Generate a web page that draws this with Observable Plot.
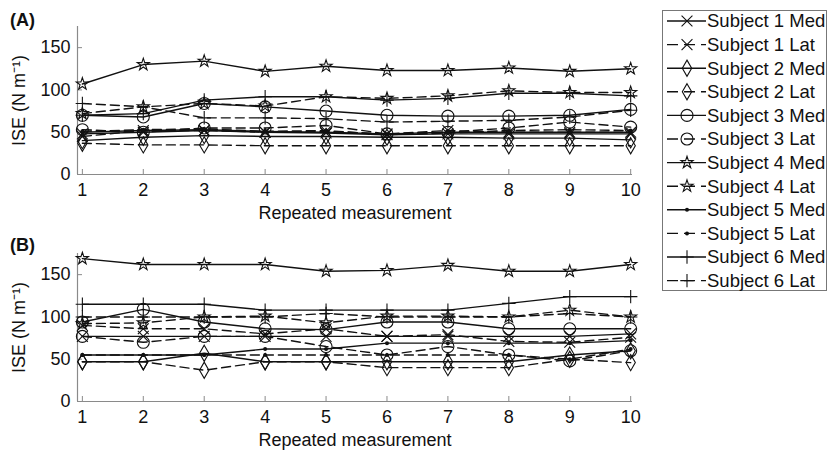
<!DOCTYPE html>
<html><head><meta charset="utf-8">
<script src="https://cdn.jsdelivr.net/npm/d3@7"></script>
<script src="https://cdn.jsdelivr.net/npm/@observablehq/plot@0.6"></script>
<style>
body{margin:0;background:#fff;font-family:"Liberation Sans",Arial,sans-serif;}
#wrap{position:relative;width:830px;height:450px;overflow:hidden;background:#fff;}
.panel{position:absolute;left:0;}
.tag{position:absolute;font-weight:bold;font-size:18px;color:#111;line-height:1;}
#legend{position:absolute;left:662px;top:10px;}
</style></head><body><div id="wrap"></div>
<script>
const measurement = [1,2,3,4,5,6,7,8,9,10];
const yTicks = [0,50,100,150];
const seriesNames = ["Subject 1 Med","Subject 1 Lat","Subject 2 Med","Subject 2 Lat","Subject 3 Med","Subject 3 Lat","Subject 4 Med","Subject 4 Lat","Subject 5 Med","Subject 5 Lat","Subject 6 Med","Subject 6 Lat"];
const panelTitles = ["(A)","(B)"];
const xLabel = "Repeated measurement";
const yLabel = "ISE (N m\u207B\u00B9)";

// Panel A
const a_s1Med = [48,50,52,50,49,47,48,48,48,48];
const a_s1Lat = [45,52,52,50,51,48,52,50,50,50];
const a_s2Med = [40,44,46,45,45,44,44,43,43,41];
const a_s2Lat = [37,35,35,34,34,34,34,34,34,34];
const a_s3Med = [70,68,84,80,75,70,69,69,70,77];
const a_s3Lat = [53,50,55,55,58,48,50,55,62,56];
const a_s4Med = [107,130,134,122,128,123,123,126,122,125];
const a_s4Lat = [72,80,84,81,92,90,93,99,97,97];
const a_s5Med = [50,52,53,51,50,48,50,50,50,50];
const a_s5Lat = [51,53,54,51,52,47,49,52,53,52];
const a_s6Med = [70,72,88,92,92,88,90,96,96,93];
const a_s6Lat = [84,80,67,67,66,62,63,64,68,76];

// Panel B
const b_s1Med = [77,77,77,77,77,77,77,77,77,80];
const b_s1Lat = [90,86,86,80,86,77,79,71,70,76];
const b_s2Med = [47,47,57,47,47,47,47,47,55,60];
const b_s2Lat = [47,47,37,47,47,40,40,40,50,46];
const b_s3Med = [94,109,94,86,85,94,94,86,86,86];
const b_s3Lat = [77,70,77,77,65,55,65,55,48,60];
const b_s4Med = [169,162,162,162,154,155,161,154,154,162];
const b_s4Lat = [92,93,100,101,93,101,101,100,108,100];
const b_s5Med = [55,55,55,62,62,69,69,69,69,72];
const b_s5Lat = [55,55,55,55,55,55,55,55,50,62];
const b_s6Med = [115,115,115,108,108,108,108,116,124,124];
const b_s6Lat = [100,100,100,100,104,100,100,100,104,100];

const panelA = [a_s1Med,a_s1Lat,a_s2Med,a_s2Lat,a_s3Med,a_s3Lat,a_s4Med,a_s4Lat,a_s5Med,a_s5Lat,a_s6Med,a_s6Lat];
const panelB = [b_s1Med,b_s1Lat,b_s2Med,b_s2Lat,b_s3Med,b_s3Lat,b_s4Med,b_s4Lat,b_s5Med,b_s5Lat,b_s6Med,b_s6Lat];

// style config
const subjectSymbol = {1:"times",2:"diamond",3:"circle",4:"star",5:"dot",6:"plus"};
const symbolR = {times:5,diamond:4.9,circle:6,star:3.8,plus:4.4};
const dash = "9,5";
const ink = "#111";
const axisGray = "#8a8a8a";
const font = "'Liberation Sans', Arial, sans-serif";

function rows(panel) {
  const out = [];
  panel.forEach((vals, i) => {
    const name = seriesNames[i];
    const subject = +name.split(" ")[1];
    const side = name.split(" ")[2];
    vals.forEach((v, j) => out.push({series: name, subject, side, symbol: subjectSymbol[subject], x: measurement[j], y: v}));
  });
  return out;
}

function makePanel(data, mTop, mBottom) {
  const xDomain = [0.92, 10.03];
  const symMarks = Object.keys(symbolR).map(s => Plot.dot(data.filter(d => d.symbol === s), {
    x: "x", y: "y", symbol: () => s, r: symbolR[s], stroke: ink, fill: "none", strokeWidth: 1.1
  }));
  return Plot.plot({
    width: 640, height: 225,
    marginLeft: 77, marginRight: 8, marginTop: mTop, marginBottom: mBottom,
    style: {fontFamily: font, fontSize: "18px", color: ink, background: "transparent", overflow: "visible"},
    x: {domain: xDomain},
    y: {domain: [0, 175]},
    symbol: {type: "identity"},
    marks: [
      Plot.ruleY([0], {stroke: axisGray, strokeWidth: 1.2}),
      Plot.ruleX([xDomain[0]], {stroke: axisGray, strokeWidth: 1.2}),
      Plot.axisX({ticks: measurement, tickSize: -5, tickPadding: 14, stroke: axisGray, tickFormat: d => d,
        label: xLabel, labelAnchor: "center", labelArrow: "none", labelOffset: 44}),
      Plot.axisY({ticks: yTicks, tickSize: -5, tickPadding: 12, stroke: axisGray, tickFormat: d => d,
        label: yLabel, labelAnchor: "center", labelArrow: "none", labelOffset: 65}),
      Plot.line(data.filter(d => d.side === "Med"), {x: "x", y: "y", z: "series", stroke: ink, strokeWidth: 1.4}),
      Plot.line(data.filter(d => d.side === "Lat"), {x: "x", y: "y", z: "series", stroke: ink, strokeWidth: 1.4, strokeDasharray: dash}),
      ...symMarks,
      Plot.dot(data.filter(d => d.symbol === "dot"), {x: "x", y: "y", r: 2, fill: ink, stroke: "none"})
    ]
  });
}

const wrap = document.getElementById("wrap");
const pA = makePanel(rows(panelA), 26, 51);
pA.classList.add("panel"); pA.style.top = "0px";
wrap.appendChild(pA);
const pB = makePanel(rows(panelB), 28, 49);
pB.classList.add("panel"); pB.style.top = "225px";
wrap.appendChild(pB);

panelTitles.forEach((t, i) => {
  const d = document.createElement("div");
  d.className = "tag"; d.textContent = t;
  d.style.left = "10px"; d.style.top = (i === 0 ? 11 : 236) + "px";
  wrap.appendChild(d);
});

// legend
const lw = 165, lh = 281, step = 23.6;
const svg = d3.create("svg").attr("id", "legend").attr("width", lw).attr("height", lh)
  .style("font-family", font).style("font-size", "18.5px");
svg.append("rect").attr("x", 0.5).attr("y", 0.5).attr("width", lw - 1).attr("height", lh - 1)
  .attr("fill", "#fff").attr("stroke", "#777").attr("stroke-width", 1);
seriesNames.forEach((name, i) => {
  const subject = +name.split(" ")[1];
  const side = name.split(" ")[2];
  const cy = 11 + i * step;
  const g = svg.append("g");
  g.append("line").attr("x1", 5).attr("x2", 44).attr("y1", cy).attr("y2", cy)
    .attr("stroke", ink).attr("stroke-width", 1.4).attr("stroke-dasharray", side === "Lat" ? "11,6" : null);
  const s = subjectSymbol[subject];
  if (s === "dot") {
    g.append("circle").attr("cx", 25).attr("cy", cy).attr("r", 2).attr("fill", ink);
  } else {
    const typ = {times: d3.symbolTimes, diamond: d3.symbolDiamond, circle: d3.symbolCircle, star: d3.symbolStar, plus: d3.symbolPlus}[s];
    const r = symbolR[s];
    g.append("path").attr("transform", `translate(25,${cy})`)
      .attr("d", d3.symbol(typ, r * r * Math.PI)()).attr("fill", "none").attr("stroke", ink).attr("stroke-width", 1.1);
  }
  g.append("text").attr("x", 45).attr("y", cy).attr("dy", "0.35em").attr("fill", ink).text(name);
});
wrap.appendChild(svg.node());
</script></body></html>
